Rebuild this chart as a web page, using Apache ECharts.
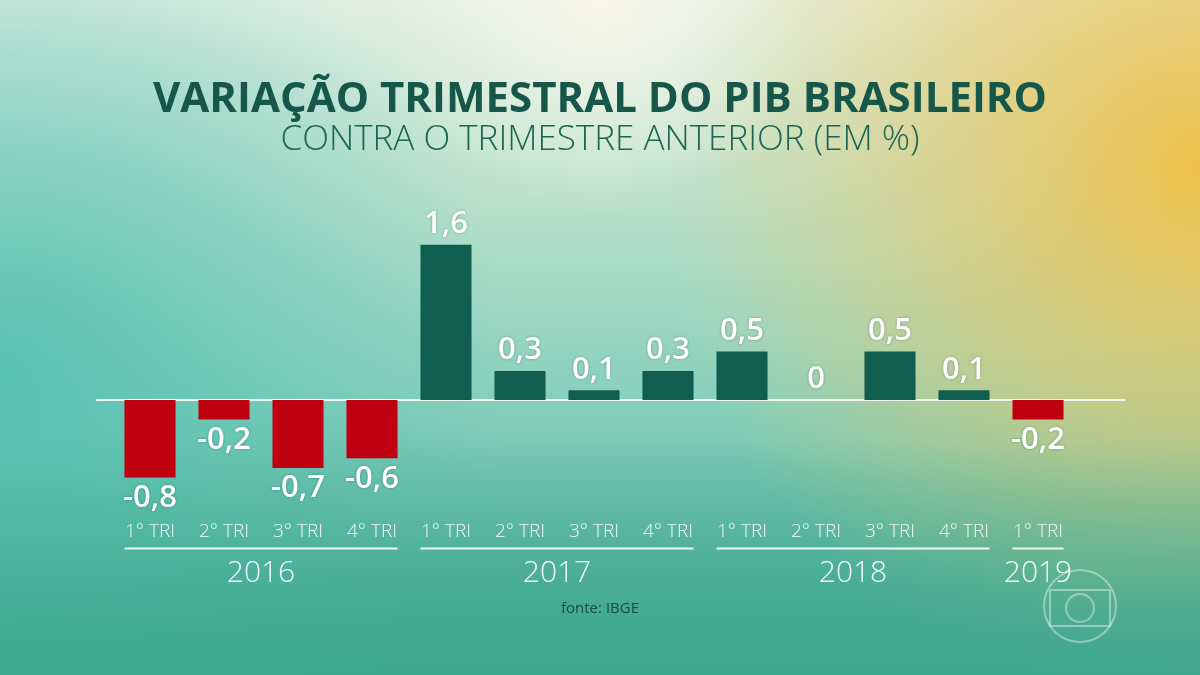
<!DOCTYPE html>
<html>
<head>
<meta charset="utf-8">
<script src="https://cdn.jsdelivr.net/npm/echarts@6/dist/echarts.min.js"></script>
<style>html,body{margin:0;padding:0;}#c{width:1200px;height:675px;}</style>
</head>
<body>
<div id="c"></div>
<script>
const categories = ['1° TRI','2° TRI','3° TRI','4° TRI','1° TRI','2° TRI','3° TRI','4° TRI','1° TRI','2° TRI','3° TRI','4° TRI','1° TRI'];
const values = [-0.8,-0.2,-0.7,-0.6,1.6,0.3,0.1,0.3,0.5,0,0.5,0.1,-0.2];
const years = ['2016','2017','2018','2019'];
const yearStart = [0,4,8,12];
const yearEnd = [3,7,11,12];
const titleText = 'VARIAÇÃO TRIMESTRAL DO PIB BRASILEIRO';
const subtitleText = 'CONTRA O TRIMESTRE ANTERIOR (EM %)';
const sourceText = 'fonte: IBGE';

const RED = '#bf0010';
const TEAL = '#0f5e50';
const FONT = "'Open Sans', 'Noto Sans', sans-serif";
const BAR_RATIO = 0.69;

const chart = echarts.init(document.getElementById('c'), null, {renderer: 'canvas'});

const barData = values.map(v => ({
  value: v,
  itemStyle: {color: v < 0 ? RED : TEAL},
  label: {position: v < 0 ? 'bottom' : 'top'}
}));

const yearData = years.map((y, i) => [yearStart[i], yearEnd[i], y]);

const option = {
  backgroundColor: {
    type: 'linear', x: 0, y: 0, x2: 0, y2: 1,
    colorStops: [
      {offset: 0, color: '#e2f0e4'},
      {offset: 0.3, color: '#b8e0cc'},
      {offset: 0.6, color: '#86cfbb'},
      {offset: 1, color: '#3ea78f'}
    ]
  },
  graphic: [
    {type: 'rect', z: -10, silent: true, shape: {x: 0, y: 0, width: 1200, height: 675},
     style: {fill: {type: 'radial', x: 0.0, y: 0.55, r: 0.75, colorStops: [
       {offset: 0, color: 'rgba(80,192,178,0.85)'}, {offset: 1, color: 'rgba(80,192,178,0)'}]}}},
    {type: 'rect', z: -9, silent: true, shape: {x: 0, y: 0, width: 1200, height: 675},
     style: {fill: {type: 'radial', x: 1.0, y: 0.25, r: 0.8, colorStops: [
       {offset: 0, color: 'rgba(240,190,65,0.95)'}, {offset: 0.5, color: 'rgba(236,200,100,0.55)'}, {offset: 1, color: 'rgba(236,210,120,0)'}]}}},
    {type: 'rect', z: -8, silent: true, shape: {x: 0, y: 0, width: 1200, height: 675},
     style: {fill: {type: 'radial', x: 0.5, y: 0.0, r: 0.32, colorStops: [
       {offset: 0, color: 'rgba(252,248,232,0.85)'}, {offset: 1, color: 'rgba(252,248,232,0)'}]}}},
    {type: 'rect', z: -7, silent: true, shape: {x: 0, y: 0, width: 1200, height: 675},
     style: {fill: {type: 'linear', x: 0, y: 0, x2: 0, y2: 1, colorStops: [
       {offset: 0, color: 'rgba(60,166,142,0)'}, {offset: 0.65, color: 'rgba(60,166,142,0)'}, {offset: 1, color: 'rgba(60,166,142,0.8)'}]}}},
    // broadcaster watermark
    {type: 'group', z: 50, silent: true, children: [
      {type: 'circle', shape: {cx: 1080, cy: 606, r: 36}, style: {fill: 'none', stroke: 'rgba(255,255,255,0.4)', lineWidth: 2}},
      {type: 'rect', shape: {x: 1050, y: 590, width: 60, height: 36}, style: {fill: 'none', stroke: 'rgba(255,255,255,0.4)', lineWidth: 2}},
      {type: 'circle', shape: {cx: 1080, cy: 608, r: 14}, style: {fill: 'none', stroke: 'rgba(255,255,255,0.4)', lineWidth: 2}}
    ]}
  ],
  title: [
    {text: titleText, left: 'center', top: 74,
     textStyle: {fontFamily: FONT, fontSize: 42, fontWeight: 700, color: '#17574a'}},
    {text: subtitleText, left: 'center', top: 118,
     textStyle: {fontFamily: FONT, fontSize: 35, fontWeight: 300, color: '#1a6652'}},
    {text: sourceText, left: 556, top: 596,
     textStyle: {fontFamily: FONT, fontSize: 15, fontWeight: 500, color: '#1d4a40'}}
  ],
  grid: [
    {left: 113, right: 125, top: 206, bottom: 158.6},
    {left: 97, right: 75, top: 206, bottom: 158.6}
  ],
  xAxis: [
    {type: 'category', gridIndex: 0, data: categories, position: 'bottom',
     axisLine: {show: false, onZero: false}, axisTick: {show: false}, splitLine: {show: false},
     axisLabel: {color: '#eef8f3', fontFamily: FONT, fontSize: 19, fontWeight: 300, margin: 6}},
    {type: 'value', gridIndex: 1, min: 0, max: 1, show: true,
     axisLine: {show: true, onZero: true, lineStyle: {color: '#f2f6ef', width: 2}},
     axisTick: {show: false}, axisLabel: {show: false}, splitLine: {show: false}}
  ],
  yAxis: [
    {type: 'value', gridIndex: 0, min: -1.2, max: 2.0, show: false},
    {type: 'value', gridIndex: 1, min: -1.2, max: 2.0, show: false}
  ],
  series: [
    {type: 'bar', xAxisIndex: 0, yAxisIndex: 0, data: barData,
     barWidth: (BAR_RATIO * 100) + '%', z: 3,
     label: {show: true, distance: 5, fontFamily: FONT, fontSize: 31, fontWeight: 600, color: '#ffffff',
       textShadowColor: 'rgba(0,50,40,0.35)', textShadowBlur: 3,
       formatter: p => String(p.value).replace('.', ',')}},
    {type: 'custom', xAxisIndex: 0, yAxisIndex: 0, data: yearData, clip: false, silent: true, z: 4,
     encode: {x: [0, 1]},
     renderItem: function (params, api) {
       const band = api.size([1, 0])[0];
       const half = band * BAR_RATIO / 2;
       const x0 = api.coord([api.value(0), 0])[0] - half;
       const x1 = api.coord([api.value(1), 0])[0] + half;
       const cs = params.coordSys;
       const base = cs.y + cs.height;
       return {type: 'group', children: [
         {type: 'line', shape: {x1: x0, y1: base + 32, x2: x1, y2: base + 32},
          style: {stroke: '#eef8f3', lineWidth: 2}},
         {type: 'text', style: {text: years[params.dataIndex], x: (x0 + x1) / 2, y: base + 57,
           align: 'center', verticalAlign: 'middle', fill: '#f2faf6',
           font: '300 30px ' + FONT}}
       ]};
     }}
  ]
};
chart.setOption(option);
</script>
</body>
</html>
